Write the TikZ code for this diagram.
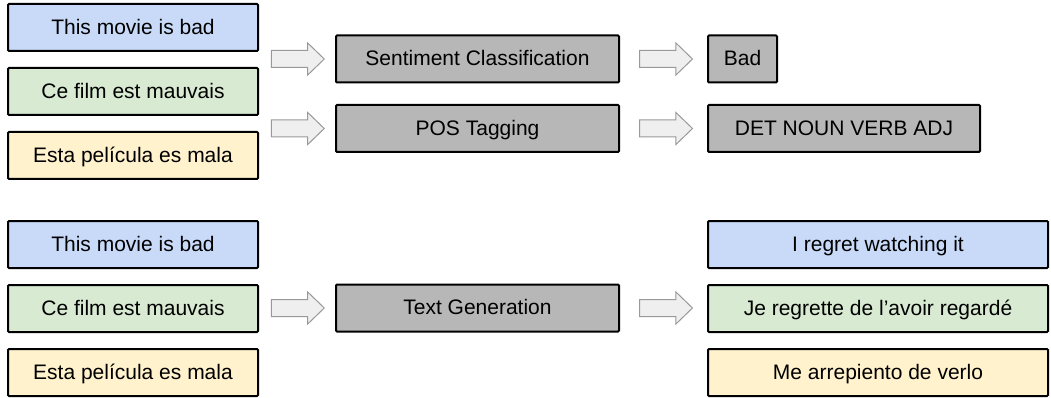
\documentclass[tikz,border=0pt]{standalone}
\usepackage{fontspec}
\setmainfont{Liberation Sans}
\usepackage{tikz}
\usetikzlibrary{positioning,shapes.arrows}

\definecolor{blu}{HTML}{C9DAF8}
\definecolor{grn}{HTML}{D9EAD3}
\definecolor{ylw}{HTML}{FFF2CC}
\definecolor{gry}{HTML}{B7B7B7}
\definecolor{arrfill}{HTML}{EFEFEF}
\definecolor{arrline}{HTML}{999999}

\tikzset{
  box/.style={draw=black, line width=2pt, rounded corners=1pt, minimum height=47pt,
    inner sep=0pt, text height=15pt, text depth=1.5pt},
  sent/.style={box, minimum width=250pt},
  outs/.style={box, minimum width=340pt},
  task/.style={box, fill=gry},
  fat/.style={single arrow, draw=arrline, fill=arrfill, line width=1pt, inner xsep=0pt,
    inner ysep=8pt, minimum height=53pt, single arrow head extend=7.5pt, single arrow tip angle=88}
}

\begin{document}
\begin{tikzpicture}[x=1pt,y=-1pt]
\fontsize{21}{25}\selectfont
\useasboundingbox (0,0) rectangle (1051,398);

\node[sent,fill=blu] (in1) at (133,27.5) {This movie is bad};
\node[sent,fill=grn] (in2) at (133,91.5) {Ce film est mauvais};
\node[sent,fill=ylw] (in3) at (133,155.5) {Esta película es mala};

\node[task,minimum width=283pt] (sc) at (477.5,59) {Sentiment Classification};
\node[task,minimum width=283pt] (pos) at (477.5,128.5) {POS Tagging};

\node[task,minimum width=69pt] (bad) at (742.5,59) {Bad};
\node[task,minimum width=272pt] (tags) at (844,128.5) {DET NOUN VERB ADJ};

\node[fat,left=10pt of sc] (a1) {};
\node[fat,left=10pt of pos] (a2) {};
\node[fat,right=19pt of sc] (a3) {};
\node[fat,right=19pt of pos] (a4) {};

\node[sent,fill=blu] (bin1) at (133,244.5) {This movie is bad};
\node[sent,fill=grn] (bin2) at (133,308.5) {Ce film est mauvais};
\node[sent,fill=ylw] (bin3) at (133,372.5) {Esta película es mala};

\node[task,minimum width=283pt] (tg) at (477.5,308) {Text Generation};

\node[outs,fill=blu] (out1) at (878,244.5) {I regret watching it};
\node[outs,fill=grn] (out2) at (878,308.5) {Je regrette de l’avoir regardé};
\node[outs,fill=ylw] (out3) at (878,372.5) {Me arrepiento de verlo};

\node[fat,left=10pt of tg] (a5) {};
\node[fat,right=19pt of tg] (a6) {};
\end{tikzpicture}
\end{document}
